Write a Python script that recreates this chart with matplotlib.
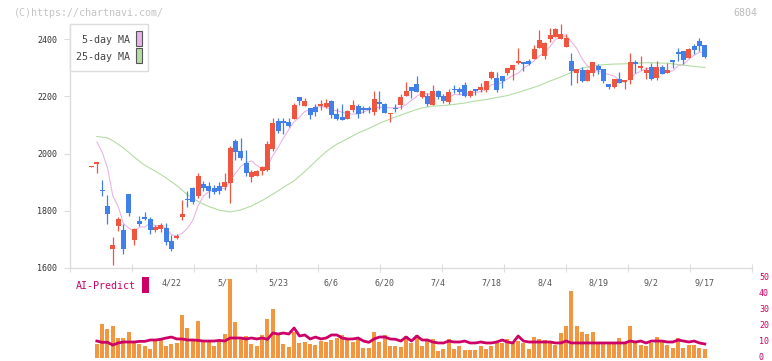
import numpy as np
import pandas as pd
import matplotlib
matplotlib.use('Agg')
import matplotlib.pyplot as plt
import matplotlib.transforms as mtransforms
from matplotlib.patches import Rectangle

plt.rcParams['font.family'] = ['DejaVu Sans Mono']

# daily prices
opens = [1954, 1964, 1874, 1816, 1667, 1746, 1732, 1858, 1698, 1763,
         1777, 1770, 1732, 1735, 1739, 1695, 1704, 1777, 1840, 1879,
         1851, 1892, 1888, 1881, 1886, 1882, 1897, 2043, 2008, 1966,
         1918, 1921, 1939, 1943, 2016, 2113, 2113, 2110, 2121, 2197,
         2167, 2159, 2162, 2166, 2162, 2183, 2138, 2127, 2121, 2153,
         2167, 2159, 2158, 2145, 2180, 2173, 2139, 2158, 2170, 2200,
         2232, 2242, 2197, 2200, 2169, 2218, 2200, 2180, 2225, 2225,
         2239, 2200, 2225, 2221, 2221, 2265, 2263, 2270, 2281, 2291,
         2316, 2319, 2323, 2330, 2368, 2342, 2400, 2407, 2400, 2373,
         2323, 2281, 2291, 2253, 2281, 2305, 2295, 2242, 2232, 2260,
         2249, 2256, 2319, 2298, 2281, 2302, 2263, 2302, 2281, 2326,
         2354, 2358, 2333, 2375, 2393, 2379]
highs = [1955, 1970, 1909, 1854, 1707, 1778, 1755, 1858, 1741, 1783,
         1795, 1778, 1751, 1756, 1756, 1714, 1720, 1837, 1868, 1883,
         1931, 1903, 1900, 1889, 1899, 1931, 2027, 2051, 2056, 2012,
         1942, 1944, 1958, 2043, 2124, 2124, 2124, 2124, 2177, 2197,
         2194, 2159, 2173, 2187, 2190, 2187, 2159, 2173, 2152, 2187,
         2173, 2167, 2167, 2218, 2218, 2176, 2143, 2173, 2207, 2249,
         2232, 2270, 2218, 2211, 2239, 2221, 2207, 2225, 2239, 2232,
         2249, 2221, 2225, 2246, 2253, 2288, 2284, 2270, 2298, 2309,
         2368, 2319, 2330, 2379, 2431, 2389, 2438, 2440, 2452, 2417,
         2351, 2295, 2302, 2295, 2319, 2312, 2295, 2242, 2260, 2284,
         2256, 2351, 2326, 2340, 2302, 2316, 2323, 2309, 2316, 2326,
         2368, 2358, 2368, 2382, 2403, 2379]
lows = [1954, 1932, 1851, 1754, 1611, 1730, 1649, 1782, 1681, 1746,
        1767, 1719, 1725, 1725, 1681, 1660, 1702, 1767, 1813, 1825,
        1844, 1868, 1846, 1859, 1860, 1873, 1827, 1977, 1977, 1922,
        1900, 1920, 1924, 1938, 2009, 2073, 2070, 2093, 2121, 2171,
        2167, 2121, 2132, 2152, 2159, 2125, 2118, 2118, 2121, 2146,
        2124, 2142, 2141, 2135, 2156, 2142, 2111, 2146, 2156, 2200,
        2193, 2214, 2193, 2165, 2169, 2190, 2176, 2172, 2211, 2207,
        2197, 2197, 2204, 2214, 2214, 2260, 2214, 2228, 2274, 2256,
        2312, 2288, 2309, 2330, 2368, 2331, 2389, 2407, 2400, 2373,
        2239, 2246, 2249, 2253, 2270, 2277, 2246, 2225, 2228, 2246,
        2225, 2242, 2281, 2291, 2260, 2256, 2256, 2277, 2281, 2298,
        2323, 2312, 2333, 2347, 2358, 2333]
closes = [1955, 1970, 1869, 1789, 1679, 1770, 1667, 1791, 1735, 1754,
          1772, 1732, 1742, 1749, 1690, 1667, 1712, 1788, 1837, 1831,
          1921, 1880, 1868, 1864, 1869, 1902, 2019, 2005, 1983, 1931,
          1935, 1938, 1952, 2033, 2106, 2079, 2106, 2097, 2169, 2183,
          2183, 2135, 2145, 2173, 2176, 2135, 2121, 2118, 2148, 2169,
          2139, 2153, 2152, 2190, 2173, 2142, 2143, 2155, 2197, 2218,
          2218, 2214, 2218, 2172, 2218, 2197, 2183, 2214, 2221, 2214,
          2200, 2218, 2218, 2232, 2253, 2284, 2221, 2253, 2298, 2309,
          2323, 2312, 2312, 2365, 2396, 2386, 2414, 2435, 2417, 2403,
          2288, 2295, 2253, 2291, 2319, 2291, 2253, 2232, 2260, 2246,
          2256, 2319, 2315, 2305, 2291, 2260, 2302, 2277, 2291, 2319,
          2347, 2326, 2365, 2361, 2375, 2337]

# first 5-day MA points come from days before the window
ma5_head = [2040, 2005, 1950]

ma25_idx = [1, 3, 4, 6, 8, 10, 12, 14, 16, 18, 20, 22, 24, 26, 28, 30, 32,
            34, 36, 38, 40, 42, 44, 46, 48, 50, 52, 54, 56, 58, 60, 62, 64,
            66, 68, 70, 72, 74, 76, 78, 80, 82, 84, 86, 88, 90, 92, 94, 96,
            98, 100, 104, 108, 111, 113, 115]
ma25_val = [2060, 2055, 2045, 2020, 1988, 1959, 1938, 1915, 1888, 1856,
            1832, 1815, 1802, 1796, 1803, 1817, 1836, 1858, 1882, 1905,
            1937, 1973, 2007, 2033, 2052, 2072, 2088, 2106, 2121, 2135,
            2148, 2160, 2166, 2168, 2172, 2177, 2184, 2189, 2196, 2203,
            2214, 2226, 2238, 2254, 2268, 2284, 2299, 2307, 2311, 2313,
            2314, 2318, 2316, 2309, 2305, 2301]

volume = [np.nan, 8.75, 21.25, 18.1, 20, 12.5, 12.5, 16.25, 10, 8.75,
          7.5, 5.6, 10.6, 11.25, 7.5, 8.75, 9.4, 26.9, 18.75, 11.25,
          23.1, 10, 10, 7.5, 10.6, 15, 49.4, 22.5, 11.9, 13.75,
          8.75, 7.5, 14.4, 24.4, 30.6, 14.4, 8.75, 6.9, 16.25, 9.4,
          10, 8.75, 8.1, 10.6, 10, 11.25, 12.5, 14.4, 11.25, 10,
          11.9, 6.25, 6.25, 16.25, 10, 14.4, 7.5, 7.5, 6.9, 13.75,
          9.4, 14.4, 7.5, 10.6, 11.9, 4.4, 5.6, 11.9, 5.6, 7.5,
          5, 5, 5, 7.5, 5.6, 7.5, 9.4, 9.4, 11.9, 9.4,
          10.6, 9.4, 5.6, 13.1, 11.9, 11.25, 9.4, 8.1, 15.6, 20,
          41.9, 20, 16.25, 15, 16.25, 9.4, 9.4, 9.4, 9.4, 12.5,
          9.4, 20, 9.4, 8.1, 7.5, 9.4, 13.1, 11.25, 8.1, 6.25,
          12.5, 6.25, 8.1, 8.1, 6.25, 5.6]
ai_predict = [np.nan, 10.6, 9.8, 9.8, 8.1, 9.4, 10, 10, 10, 10.4,
              10.4, 11.25, 11.25, 11.7, 12.5, 13.1, 11.9, 11.9, 11.25, 11.25,
              11, 10.6, 10.6, 10.6, 11, 10.6, 12.5, 12.5, 12.5, 11.9,
              12.5, 11.9, 12.5, 11.7, 15.6, 15, 15.6, 15, 18.75, 13.75,
              14.4, 11.9, 13.1, 11.9, 12.5, 14.4, 14.4, 12.5, 11.9, 11.9,
              12.5, 10.6, 9.8, 11.9, 13.1, 13.1, 11.9, 11.7, 10.6, 13.1,
              10.6, 13.75, 11.25, 11.25, 10, 9.4, 9.4, 10.6, 10, 10,
              10.6, 9.4, 9.4, 10, 9.4, 9.4, 10, 11.25, 10, 9.4,
              13.75, 10.6, 10, 10, 10, 10, 10, 9.4, 9.4, 10.6,
              9.4, 9.4, 9.4, 9.4, 9.4, 9.4, 9.4, 9.4, 9.4, 9.4,
              9.4, 10.6, 10, 10.6, 9.4, 10.6, 10.6, 10.6, 10, 10,
              11.25, 10.6, 10, 10.6, 9.4, 8.75]

date_idx = [15, 25, 35, 45, 55, 65, 75, 85, 95, 105, 115]
date_labels = ['4/22', '5/7', '5/23', '6/6', '6/20', '7/4', '7/18',
               '8/4', '8/19', '9/2', '9/17']

RED = '#f05540'
BLUE = '#4080e8'
PINK = '#e8b4e8'
GREEN = '#b4dca4'
ORANGE = '#f2963f'
MAG = '#cc0066'
GRID = '#dddddd'

W, H = 772, 361
fig = plt.figure(figsize=(W / 100, H / 100), dpi=100)


def fx(px):
    return px / W


def fy(py):
    return 1 - py / H


ax = fig.add_axes([fx(70), fy(268), fx(752) - fx(70), fy(10.6) - fy(268)])
vax = fig.add_axes([fx(70), fy(358), fx(752) - fx(70), fy(278) - fy(358)])
vax.set_facecolor('none')

o = np.array(opens, float)
c = np.array(closes, float)
x = np.arange(len(c))
xmin, xmax = -4.03, 123.85

# moving averages
ma5 = pd.Series(c).rolling(5).mean()
ma5.iloc[1:4] = ma5_head
ax.plot(x[1:], ma5[1:], color=PINK, lw=0.8, zorder=1)
ax.plot(ma25_idx, ma25_val, color=GREEN, lw=0.8, zorder=1)

# candles
cols = np.where(c >= o, RED, BLUE)
ax.vlines(x, lows, highs, colors=cols, lw=0.9, zorder=2)
body = np.maximum(np.abs(c - o), 4)
ax.bar(x, body, bottom=np.minimum(o, c), width=0.92, color=cols,
       linewidth=0, zorder=3)

ax.set_xlim(xmin, xmax)
ax.set_ylim(1600, 2500)
ax.set_yticks([1600, 1800, 2000, 2200, 2400])
ax.tick_params(axis='y', length=4, color=GRID, labelsize=6,
               labelcolor='#333333', pad=5)
ax.set_xticks(np.linspace(xmin, xmax, 12))
ax.tick_params(axis='x', direction='inout', length=6, color=GRID,
               labelbottom=False)
for s in ['top', 'right']:
    ax.spines[s].set_visible(False)
for s in ['left', 'bottom']:
    ax.spines[s].set_color(GRID)
    ax.spines[s].set_linewidth(1)
ax.spines['left'].set_bounds(1600, 2452)

# volume + AI-Predict
vax.bar(x, volume, width=0.75, color=ORANGE, linewidth=0, zorder=1)
vax.plot(x, ai_predict, color=MAG, lw=2.0, zorder=2)
vax.set_xlim(xmin, xmax)
vax.set_ylim(0, 50)
vax.yaxis.tick_right()
vax.set_yticks(range(0, 51, 10))
vax.tick_params(axis='y', length=0, pad=5, labelsize=6, labelcolor=MAG)
vax.set_xticks([])
for s in vax.spines.values():
    s.set_visible(False)
# lift the right-hand labels a little so the "0" stays inside the picture
lift = mtransforms.ScaledTranslation(0, 1.5 / 100, fig.dpi_scale_trans)
for lab in vax.get_yticklabels():
    lab.set_transform(lab.get_transform() + lift)

trans = mtransforms.blended_transform_factory(vax.transData, vax.transAxes)
for i, lab in zip(date_idx, date_labels):
    vax.text(i, 0.9375, lab, transform=trans, ha='center', va='center',
             fontsize=6, color='#555555', zorder=0.5)

# legend box for the moving averages
fig.patches.append(Rectangle((fx(70), fy(71)), fx(78), 47 / H,
                             transform=fig.transFigure, facecolor='white',
                             edgecolor=GRID, lw=1, zorder=5))
fig.text(fx(130), fy(40), '5-day MA', ha='right', va='center', fontsize=7.2,
         color='#444444', zorder=6)
fig.text(fx(130), fy(57), '25-day MA', ha='right', va='center', fontsize=7.2,
         color='#444444', zorder=6)
fig.patches.append(Rectangle((fx(136), fy(46)), fx(6), 15 / H,
                             transform=fig.transFigure, facecolor=PINK,
                             edgecolor='#555555', lw=0.8, zorder=6))
fig.patches.append(Rectangle((fx(136), fy(63)), fx(6), 15 / H,
                             transform=fig.transFigure, facecolor=GREEN,
                             edgecolor='#555555', lw=0.8, zorder=6))

# AI-Predict label
fig.text(fx(76), fy(286), 'AI-Predict', ha='left', va='center', fontsize=7.2,
         color=MAG, zorder=6)
fig.patches.append(Rectangle((fx(142), fy(293)), fx(7), 16 / H,
                             transform=fig.transFigure, facecolor=MAG,
                             edgecolor='none', zorder=6))

fig.text(fx(14), fy(12.5), '(C)https://chartnavi.com/', ha='left',
         va='center', fontsize=7.2, color='#c4c4c4')
fig.text(fx(757), fy(12.5), '6804', ha='right', va='center', fontsize=7.2,
         color='#bbbbbb')

fig.savefig('out.png', dpi=100, facecolor='white')
